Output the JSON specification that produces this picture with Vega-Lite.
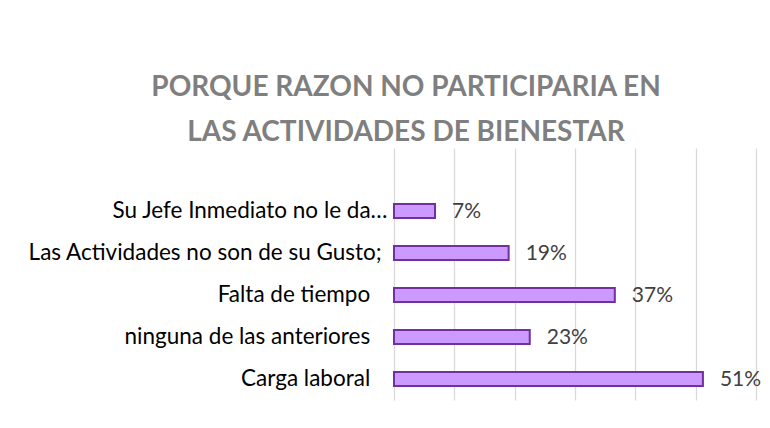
{
  "$schema": "https://vega.github.io/schema/vega-lite/v6.json",
  "width": 362,
  "height": 252,
  "autosize": "none",
  "padding": {"left": 394, "top": 148, "right": 14, "bottom": 28},
  "background": "white",
  "config": {"view": {"stroke": null}, "font": "Lato"},
  "title": {
    "text": ["PORQUE RAZON NO PARTICIPARIA EN", "LAS ACTIVIDADES DE BIENESTAR"],
    "anchor": "middle",
    "frame": "group",
    "dx": -169,
    "offset": 1,
    "font": "Lato",
    "fontSize": 28,
    "fontWeight": "bold",
    "color": "#7F7F7F",
    "lineHeight": 45
  },
  "data": {
    "values": [
      {"razon": "Su Jefe Inmediato no le da…", "pct": 0.068},
      {"razon": "Las Actividades no son de su Gusto;", "pct": 0.19},
      {"razon": "Falta de tiempo", "pct": 0.366},
      {"razon": "ninguna de las anteriores", "pct": 0.225},
      {"razon": "Carga laboral", "pct": 0.512}
    ]
  },
  "encoding": {
    "y": {
      "field": "razon",
      "type": "nominal",
      "sort": null,
      "scale": {"paddingInner": 0, "paddingOuter": 0.5, "align": 1},
      "axis": {
        "title": null,
        "domain": false,
        "ticks": false,
        "grid": false,
        "labelFont": "Lato",
        "labelFontSize": 22.5,
        "labelColor": "#000000",
        "labelPadding": 7,
        "labelLimit": 500,
        "labelExpr": "indexof(datum.label, 'Su Jefe') == 0 ? datum.label : indexof(datum.label, 'Las Activ') == 0 ? datum.label + '\u00a0\u2060' : datum.label + '\u00a0\u00a0\u00a0\u2060'"
      }
    },
    "x": {
      "field": "pct",
      "type": "quantitative",
      "scale": {"domain": [0, 0.6], "nice": false},
      "axis": {
        "title": null,
        "labels": false,
        "ticks": false,
        "domain": false,
        "values": [0, 0.1, 0.2, 0.3, 0.4, 0.5, 0.6],
        "grid": true,
        "gridColor": "#D9D9D9",
        "gridWidth": 1.3
      }
    }
  },
  "layer": [
    {
      "mark": {"type": "bar", "size": 14, "fill": "#CC99FF", "stroke": "#7030A0", "strokeWidth": 2}
    },
    {
      "mark": {"type": "text", "align": "left", "baseline": "middle", "dx": 17, "dy": 1, "font": "Lato", "fontSize": 21, "color": "#404040"},
      "encoding": {"text": {"field": "pct", "type": "quantitative", "format": ".0%"}}
    }
  ]
}
